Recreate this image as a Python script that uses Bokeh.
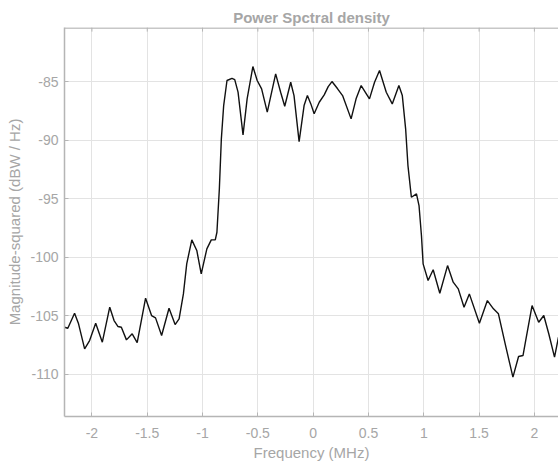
from bokeh.plotting import figure
from bokeh.models import FixedTicker, Range1d, Span
from bokeh.embed import file_html
from bokeh.resources import INLINE

freq_mhz = [-2.248, -2.218, -2.157, -2.121, -2.066, -2.021, -1.966, -1.906, -1.839, -1.8,
            -1.764, -1.734, -1.688, -1.636, -1.591, -1.515, -1.461, -1.425, -1.37, -1.303,
            -1.248, -1.212, -1.173, -1.143, -1.097, -1.052, -1.012, -0.961, -0.921, -0.885,
            -0.87, -0.848, -0.83, -0.809, -0.779, -0.734, -0.709, -0.679, -0.634, -0.597,
            -0.545, -0.506, -0.466, -0.415, -0.339, -0.294, -0.257, -0.203, -0.173, -0.127,
            -0.082, -0.052, -0.021, 0.009, 0.055, 0.1, 0.136, 0.17, 0.221, 0.266,
            0.343, 0.388, 0.434, 0.509, 0.555, 0.6, 0.661, 0.715, 0.775, 0.806,
            0.836, 0.857, 0.888, 0.934, 0.957, 0.979, 0.994, 1.039, 1.085, 1.145,
            1.215, 1.266, 1.312, 1.364, 1.412, 1.503, 1.575, 1.63, 1.675, 1.736,
            1.806, 1.857, 1.897, 1.927, 1.979, 2.039, 2.085, 2.13, 2.182, 2.218]
psd_dbw = [-106.0, -106.09, -104.8, -105.71, -107.85, -107.14, -105.66, -107.28, -104.29, -105.43,
           -105.94, -106.0, -107.08, -106.56, -107.31, -103.52, -105.0, -105.2, -106.71, -104.38,
           -105.77, -105.28, -103.15, -100.58, -98.53, -99.44, -101.44, -99.3, -98.53, -98.53,
           -97.88, -94.17, -89.9, -87.05, -84.91, -84.72, -84.83, -85.91, -89.56, -86.48,
           -83.72, -84.91, -85.62, -87.62, -84.34, -85.91, -87.11, -85.06, -86.2, -90.13,
           -87.05, -86.2, -86.91, -87.76, -86.77, -86.14, -85.43, -85.0, -85.62, -86.2,
           -88.19, -86.48, -85.34, -86.48, -85.06, -84.06, -85.91, -86.91, -85.34, -86.2,
           -89.04, -92.18, -94.89, -94.6, -95.6, -98.16, -100.58, -102.01, -101.09, -103.09,
           -100.73, -102.15, -102.72, -104.29, -103.15, -105.66, -103.72, -104.43, -104.85, -107.42,
           -110.27, -108.5, -108.42, -106.85, -104.15, -105.57, -105.0, -106.56, -108.56, -106.85]

x_ticks = [-2, -1.5, -1, -0.5, 0, 0.5, 1, 1.5, 2]
y_ticks = [-110, -105, -100, -95, -90, -85]
x_lim = (-2.248, 2.218)
y_lim = (-113.63, -80.38)

FONT = "Liberation Sans"
TXT = "#a6a6a6"
AX = "#b5b5b5"
GRID = "#e3e3e3"

p = figure(width=558, height=467, output_backend="svg", toolbar_location=None,
           x_range=Range1d(*x_lim), y_range=Range1d(*y_lim),
           min_border_left=64, min_border_right=0, min_border_top=27, min_border_bottom=51)
p.outline_line_color = None
p.background_fill_color = "white"

p.title.text = "Power Spctral density"
p.title.align = "center"
p.title.text_font = FONT
p.title.text_font_size = "15px"
p.title.text_font_style = "bold"
p.title.text_color = TXT
p.title.standoff = 3

p.xgrid.ticker = FixedTicker(ticks=x_ticks)
p.ygrid.ticker = FixedTicker(ticks=y_ticks)
p.grid.grid_line_color = GRID
p.grid.grid_line_width = 1

# top border of the box with inward ticks (MATLAB style)
p.add_layout(Span(location=y_lim[1] - 0.04, dimension="width", line_color=AX, line_width=1.5))
tick_len = 0.35
p.segment(x0=x_ticks, y0=[y_lim[1]] * len(x_ticks), x1=x_ticks,
          y1=[y_lim[1] - tick_len] * len(x_ticks), line_color=AX, line_width=1)

p.line(freq_mhz, psd_dbw, line_color="#111111", line_width=1.4)

for ax in p.xaxis:
    ax.ticker = FixedTicker(ticks=x_ticks)
    ax.major_label_overrides = {-2: "-2", -1.5: "-1.5", -1: "-1", -0.5: "-0.5", 0: "0",
                                0.5: "0.5", 1: "1", 1.5: "1.5", 2: "2"}
    ax.axis_label = "Frequency (MHz)"
    ax.major_label_standoff = 11
    ax.axis_label_standoff = 3
for ax in p.yaxis:
    ax.ticker = FixedTicker(ticks=y_ticks)
    ax.major_label_overrides = {-110: "-110", -105: "-105", -100: "-100", -95: "-95",
                                -90: "-90", -85: "-85"}
    ax.axis_label = "Magnitude-squared (dBW / Hz)"
    ax.major_label_standoff = 6
    ax.axis_label_standoff = 4

for ax in list(p.xaxis) + list(p.yaxis):
    ax.axis_line_color = AX
    ax.axis_line_width = 1.5
    ax.major_tick_line_color = AX
    ax.major_tick_in = 4
    ax.major_tick_out = 0
    ax.minor_tick_line_color = None
    ax.major_label_text_font = FONT
    ax.major_label_text_font_size = "14px"
    ax.major_label_text_color = TXT
    ax.axis_label_text_font = FONT
    ax.axis_label_text_font_size = "15px"
    ax.axis_label_text_font_style = "normal"
    ax.axis_label_text_color = TXT

open("out.html", "w").write(file_html(p, INLINE))
